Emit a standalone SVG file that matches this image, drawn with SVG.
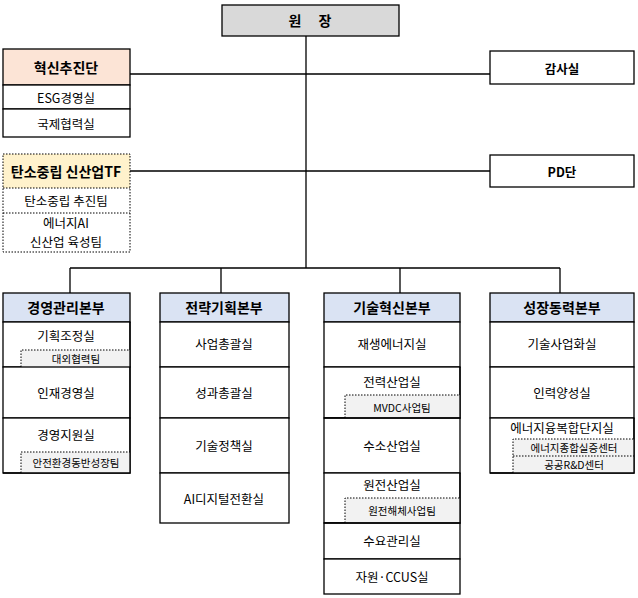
<svg xmlns="http://www.w3.org/2000/svg" width="638" height="598" viewBox="0 0 638 598">
<style>
text{font-family:"Noto Sans CJK KR","Noto Sans",sans-serif;text-anchor:middle;dominant-baseline:central;fill:#000}
.h{font-size:14px;font-weight:bold}
.r{font-size:12.5px}
.s{font-size:10.5px}
.b{fill:#fff;stroke:#000;stroke-width:1.3}
.d{fill:none;stroke:#000;stroke-width:1;stroke-dasharray:1.5 1.5}
.t{fill:#f2f2f2;stroke:none}
.l{stroke:#000;stroke-width:1.3;fill:none}
</style>
<g id="connectors" class="l">
<path d="M306 36V268M130 74H490M130 171H490M70 268H560M70 268V293M221 268V293M400 268V293M560 268V293"/>
</g>
<g id="head"><rect x="222" y="5" width="177" height="31" fill="#d9d9d9" stroke="#000" stroke-width="1.3"/><text x="310" y="20" class="h">원　 장</text></g>
<g id="innov">
<rect x="3" y="49" width="127" height="36" fill="#fce4d6" stroke="#000" stroke-width="1.3"/><text x="66" y="67" class="h">혁신추진단</text>
<rect x="3" y="85" width="127" height="24" class="b"/><text x="66" y="97" class="r">ESG경영실</text>
<rect x="3" y="109" width="127" height="28" class="b"/><text x="66" y="123" class="r">국제협력실</text>
</g>
<g id="tf">
<rect x="3" y="154" width="127" height="34" fill="#fff2cc"/><rect x="3" y="154" width="127" height="98" class="d"/>
<path d="M3 188H130M3 213H130" class="d"/>
<text x="66" y="171" class="h">탄소중립 신산업TF</text>
<text x="66" y="200" class="r">탄소중립 추진팀</text>
<text x="66" y="222" class="r">에너지AI</text><text x="66" y="241" class="r">신산업 육성팀</text>
</g>
<g id="audit"><rect x="490" y="51" width="144" height="33" class="b"/><text x="562" y="68" class="r" font-weight="bold">감사실</text></g>
<g id="pd"><rect x="490" y="155" width="144" height="32" class="b"/><text x="562" y="171" class="r" font-weight="bold">PD단</text></g>
<g id="mgmt">
<rect x="3" y="293" width="127" height="29" fill="#dae3f3" stroke="#000" stroke-width="1.3"/><text x="66" y="307" class="h">경영관리본부</text>
<rect x="3" y="322" width="127" height="45" class="b"/><text x="66" y="335" class="r">기획조정실</text>
<rect x="21" y="350" width="109" height="17" class="t"/><path d="M21 367V350H130" class="d"/><text x="76" y="358" class="s">대외협력팀</text>
<rect x="3" y="367" width="127" height="51" class="b"/><text x="66" y="392" class="r">인재경영실</text>
<rect x="3" y="418" width="127" height="55" class="b"/><text x="66" y="434" class="r">경영지원실</text>
<rect x="21" y="452" width="109" height="21" class="t"/><path d="M21 473V452H130" class="d"/><text x="76" y="462" class="s">안전환경동반성장팀</text>
<path d="M3 473H130V322" class="l"/>
</g>
<g id="strat">
<rect x="160" y="293" width="129" height="29" fill="#dae3f3" stroke="#000" stroke-width="1.3"/><text x="224" y="307" class="h">전략기획본부</text>
<rect x="160" y="322" width="129" height="45" class="b"/><text x="224" y="343" class="r">사업총괄실</text>
<rect x="160" y="367" width="129" height="51" class="b"/><text x="224" y="392" class="r">성과총괄실</text>
<rect x="160" y="418" width="129" height="55" class="b"/><text x="224" y="445" class="r">기술정책실</text>
<rect x="160" y="473" width="129" height="50" class="b"/><text x="224" y="498" class="r">AI디지털전환실</text>
</g>
<g id="tech">
<rect x="324" y="293" width="136" height="29" fill="#dae3f3" stroke="#000" stroke-width="1.3"/><text x="392" y="307" class="h">기술혁신본부</text>
<rect x="324" y="322" width="136" height="45" class="b"/><text x="392" y="343" class="r">재생에너지실</text>
<rect x="324" y="367" width="136" height="51" class="b"/><text x="392" y="381" class="r">전력산업실</text>
<rect x="345" y="395" width="115" height="23" class="t"/><path d="M345 418V395H460" class="d"/><text x="402" y="407" class="s">MVDC사업팀</text>
<rect x="324" y="418" width="136" height="55" class="b"/><text x="392" y="445" class="r">수소산업실</text>
<rect x="324" y="473" width="136" height="50" class="b"/><text x="392" y="484" class="r">원전산업실</text>
<rect x="345" y="498" width="115" height="25" class="t"/><path d="M345 523V498H460" class="d"/><text x="402" y="510" class="s">원전해체사업팀</text>
<rect x="324" y="523" width="136" height="36" class="b"/><text x="392" y="540" class="r">수요관리실</text>
<rect x="324" y="559" width="136" height="35" class="b"/><text x="392" y="576" class="r">자원·CCUS실</text>
<path d="M324 418H460V367M324 523H460V473" class="l"/>
</g>
<g id="growth">
<rect x="490" y="293" width="144" height="29" fill="#dae3f3" stroke="#000" stroke-width="1.3"/><text x="562" y="307" class="h">성장동력본부</text>
<rect x="490" y="322" width="144" height="45" class="b"/><text x="562" y="343" class="r">기술사업화실</text>
<rect x="490" y="367" width="144" height="51" class="b"/><text x="562" y="392" class="r">인력양성실</text>
<rect x="490" y="418" width="144" height="55" class="b"/><text x="562" y="427" class="r">에너지융복합단지실</text>
<rect x="513" y="439" width="121" height="34" class="t"/><path d="M513 473V439H634M513 456H634" class="d"/>
<text x="574" y="447" class="s">에너지종합실증센터</text><text x="574" y="464" class="s">공공R&amp;D센터</text>
<path d="M490 473H634V418" class="l"/>
</g>
</svg>
